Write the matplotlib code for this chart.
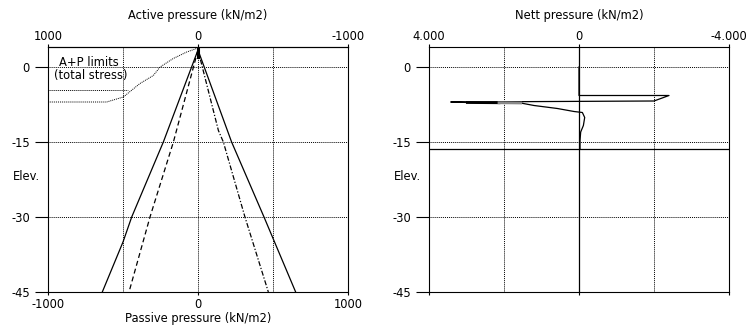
import numpy as np
import matplotlib
matplotlib.use("Agg")
import matplotlib.pyplot as plt

plt.rcParams['font.family'] = ['DejaVu Sans']
plt.rcParams['font.size'] = 8.3

# Left panel: A+P limits (passive scale, elevation in m)
outer_left_elev = [3.4, -15, -30, -35, -45]
outer_left_p = [0, -231, -442, -500, -638]
outer_right_elev = [3.4, -15, -30, -45]
outer_right_p = [0, 224, 440, 651]
dashed_elev = [3.4, -15, -30, -45]
dashed_p = [0, -164, -320, -460]
dashdot_elev = [3.4, -12.7, -15, -30, -45]
dashdot_p = [0, 136, 169, 313, 469]

# leader lines from the "A+P limits" label
leader1_p = [-998, -467]
leader1_elev = [-4.5, -4.5]
leader2_p = [-998, -609, -498, -387, -298, -253, -165, -75, -9]
leader2_elev = [-7.0, -7.0, -6.0, -3.3, -1.7, 0.0, 1.7, 3.0, 3.7]

# Right panel: nett pressure
nett_p = [0, 0, -2400, -2000, 3420, 2977, 2133, 1555, 1200, 576, 133,
          -90, -152, -117, -45, -27, -27]
nett_elev = [0, -5.7, -5.7, -6.8, -7.0, -7.1, -7.15, -7.2, -7.7, -8.3, -8.9,
             -9.1, -10.1, -11.7, -13.0, -14.7, -16.3]
toe_elev = -16.3

elev_ticks = [0, -15, -30, -45]
dot = (0, (1, 1))

fig = plt.figure(figsize=(7.5, 3.32), dpi=100)
ax1 = fig.add_axes([48 / 750, 40 / 332, 300 / 750, 245 / 332])
ax2 = fig.add_axes([429 / 750, 40 / 332, 300 / 750, 245 / 332])

for ax in (ax1, ax2):
    ax.set_ylim(-45, 4)
    ax.set_yticks(elev_ticks)
    ax.set_yticklabels([str(t) for t in elev_ticks])
    ax.tick_params(axis='y', direction='out', length=9.5, width=0.8, pad=3.5)
    for s in ax.spines.values():
        s.set_linewidth(0.8)
    for t in elev_ticks:
        ax.axhline(t, color='black', lw=0.7, ls=dot, zorder=1)

# left panel
ax1.set_xlim(-1000, 1000)
ax1.set_xticks([-1000, 0, 1000])
ax1.set_xticklabels(['-1000', '0', '1000'])
ax1.tick_params(axis='x', direction='out', length=2, width=0.8, pad=2)
ax1.set_xlabel('Passive pressure (kN/m2)', labelpad=1)
for v in (-500, 0, 500):
    ax1.axvline(v, color='black', lw=0.7, ls=dot, zorder=1)
top1 = ax1.secondary_xaxis('top', functions=(np.negative, np.negative))
top1.set_xticks([1000, 0, -1000])
top1.set_xticklabels(['1000', '0', '-1000'])
top1.tick_params(direction='out', length=2, width=0.8, pad=1)
top1.set_xlabel('Active pressure (kN/m2)', labelpad=8)

ax1.plot(outer_left_p, outer_left_elev, color='black', lw=0.9)
ax1.plot(outer_right_p, outer_right_elev, color='black', lw=0.9)
ax1.plot(dashed_p, dashed_elev, color='black', lw=0.9, ls=(0, (4, 2.5)))
ax1.plot(dashdot_p, dashdot_elev, color='black', lw=0.9, ls=(0, (4, 1.5, 1, 1.5)))
ax1.plot([0, 0], [2.0, 3.8], color='black', lw=2.2)
ax1.plot(leader1_p, leader1_elev, color='black', lw=0.7, ls=dot)
ax1.plot(leader2_p, leader2_elev, color='black', lw=0.7, ls=dot)
ax1.text(-727, 1.0, 'A+P limits', ha='center', va='center')
ax1.text(-717, -1.7, '(total stress)', ha='center', va='center')

# right panel
ax2.set_xlim(4000, -4000)
ax2.set_xticks([4000, 0, -4000])
ax2.tick_params(axis='x', direction='out', length=2, width=0.8,
                top=True, labeltop=True, bottom=True, labelbottom=False, pad=1)
ax2.set_xticklabels(['4.000', '0', '-4.000'])
ax2.set_title('Nett pressure (kN/m2)', pad=20, fontsize=8.3)
for v in (2000, -2000):
    ax2.axvline(v, color='black', lw=0.7, ls=dot, zorder=1)
ax2.axvline(0, color='black', lw=0.9)
ax2.axhline(toe_elev, color='black', lw=0.9)
ax2.plot(nett_p, nett_elev, color='black', lw=0.9)
ax2.plot([2977, 2133], [-7.1, -7.15], color='black', lw=2.0)
ax2.plot([2133, 1555], [-7.15, -7.2], color='#888888', lw=2.0)

fig.text(26 / 750, 1 - 177 / 332, 'Elev.', ha='center', va='center')
fig.text(407 / 750, 1 - 177 / 332, 'Elev.', ha='center', va='center')

fig.savefig('out.png', dpi=100)
